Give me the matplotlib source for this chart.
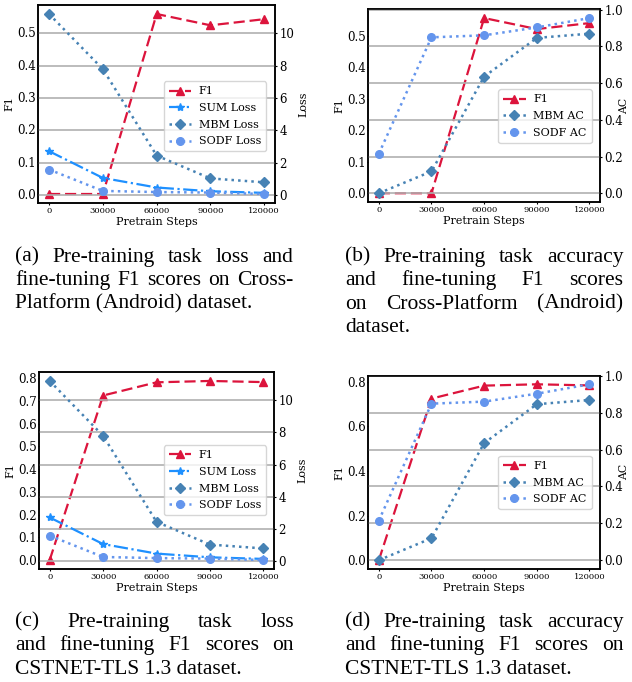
import matplotlib
matplotlib.use("Agg")
import matplotlib.pyplot as plt
from matplotlib.ticker import MultipleLocator

# ---------------- data ----------------
steps = [0, 30000, 60000, 90000, 120000]

f1_android = [0.0, 0.0, 0.557, 0.522, 0.541]
f1_tls = [0.0, 0.724, 0.782, 0.788, 0.783]

sum_loss = [2.72, 1.07, 0.48, 0.25, 0.15]
mbm_loss = [11.18, 7.78, 2.45, 1.04, 0.80]
sodf_loss = [1.59, 0.27, 0.20, 0.17, 0.08]

mbm_ac = [0.0, 0.119, 0.635, 0.846, 0.869]
sodf_ac = [0.215, 0.849, 0.860, 0.903, 0.954]

captions = {
    "a": [("(a) Pre-training task loss and", True),
          ("fine-tuning F1 scores on Cross-", True),
          ("Platform (Android) dataset.", False)],
    "b": [("(b) Pre-training task accuracy", True),
          ("and fine-tuning F1 scores", True),
          ("on Cross-Platform (Android)", True),
          ("dataset.", False)],
    "c": [("(c) Pre-training task loss", True),
          ("and fine-tuning F1 scores on", True),
          ("CSTNET-TLS 1.3 dataset.", False)],
    "d": [("(d) Pre-training task accuracy", True),
          ("and fine-tuning F1 scores on", True),
          ("CSTNET-TLS 1.3 dataset.", False)],
}

# ---------------- style ----------------
W, H = 632, 682
plt.rcParams["font.family"] = ["DejaVu Serif"]
C_F1 = "#DC143C"
C_SUM = "#1E90FF"
C_MBM = "#4682B4"
C_SODF = "#6495ED"

fig = plt.figure(figsize=(W / 100, H / 100), dpi=100)

LEG_KW = dict(loc="center right", borderaxespad=0, fontsize=8, handlelength=2.0,
              handletextpad=0.7, labelspacing=0.6, borderpad=0.45, framealpha=0.8)


def px_axes(left, top, right, bottom):
    return fig.add_axes([left / W, 1 - bottom / H, (right - left) / W, (bottom - top) / H])


def style_axes(ax, ax2, f1_step, right_step):
    for a in (ax, ax2):
        for s in a.spines.values():
            s.set_linewidth(1.1)
            s.set_color("black")
    ax.set_xticks(steps)
    ax.set_xticklabels([str(s) for s in steps])
    ax.tick_params(axis="x", labelsize=6, length=1.5, pad=1.2, width=0.8)
    ax.tick_params(axis="y", labelsize=8.5, length=1.0, pad=0.7, width=0.8)
    ax2.tick_params(axis="y", labelsize=8.5, length=1.5, pad=1.5, width=0.8)
    ax.yaxis.set_major_locator(MultipleLocator(f1_step))
    ax2.yaxis.set_major_locator(MultipleLocator(right_step))
    ax.set_xlabel("Pretrain Steps", fontsize=8, labelpad=1.5)
    ax.set_ylabel("F1", fontsize=8, labelpad=2)
    ax2.grid(axis="y", color="#b0b0b0", linewidth=1.2)
    ax.grid(False)


def loss_panel(box, f1, leg_y, leg_x):
    ax = px_axes(*box)
    ax2 = ax.twinx()
    h1, = ax.plot(steps, f1, color=C_F1, linestyle=(0, (5, 2.2)), linewidth=1.6,
                  marker="^", markersize=5.5, label="F1")
    h2, = ax2.plot(steps, sum_loss, color=C_SUM, linestyle="-.", linewidth=1.6,
                   marker="*", markersize=6, label="SUM Loss")
    h3, = ax2.plot(steps, mbm_loss, color=C_MBM, linestyle=":", linewidth=1.8,
                   marker="D", markersize=5, label="MBM Loss")
    h4, = ax2.plot(steps, sodf_loss, color=C_SODF, linestyle=":", linewidth=1.8,
                   marker="o", markersize=5.5, label="SODF Loss")
    style_axes(ax, ax2, 0.1, 2)
    ax2.set_ylabel("Loss", fontsize=8, labelpad=3)
    ax2.legend(handles=[h1, h2, h3, h4], bbox_to_anchor=(leg_x, leg_y), **LEG_KW)
    return ax, ax2


def ac_panel(box, f1, f1_step, leg_y, leg_x):
    ax = px_axes(*box)
    ax2 = ax.twinx()
    h1, = ax.plot(steps, f1, color=C_F1, linestyle=(0, (5, 2.2)), linewidth=1.6,
                  marker="^", markersize=5.5, label="F1")
    h3, = ax2.plot(steps, mbm_ac, color=C_MBM, linestyle=":", linewidth=1.8,
                   marker="D", markersize=5, label="MBM AC")
    h4, = ax2.plot(steps, sodf_ac, color=C_SODF, linestyle=":", linewidth=1.8,
                   marker="o", markersize=5.5, label="SODF AC")
    style_axes(ax, ax2, f1_step, 0.2)
    ax2.set_ylabel("AC", fontsize=7.8)
    # keep the label inside the figure (left edge of its box at ~619 px)
    left, _, right, _ = box
    ax2.yaxis.set_label_coords((619 - left) / (right - left), 0.5)
    ax2.legend(handles=[h1, h3, h4], bbox_to_anchor=(leg_x, leg_y), **LEG_KW)
    return ax, ax2


loss_panel((38.3, 5, 275, 203), f1_android, 0.437, 0.962)
ac_panel((368.3, 9.3, 600, 202), f1_android, 0.1, 0.446, 0.964)
loss_panel((39, 372, 274, 569), f1_tls, 0.45, 0.966)
ac_panel((368.3, 375.5, 600, 569), f1_tls, 0.2, 0.446, 0.964)

# ---------------- captions (justified) ----------------
renderer = fig.canvas.get_renderer()
CAP_FONT = dict(family="Liberation Serif", fontsize=15.5, va="baseline", ha="left")


def caption(lines, x0, x1, y0, dy):
    for i, (line, just) in enumerate(lines):
        y = 1 - (y0 + i * dy) / H
        if not just:
            fig.text(x0 / W, y, line, **CAP_FONT)
            continue
        words = line.split()
        texts = [fig.text(0, y, w, **CAP_FONT) for w in words]
        widths = [t.get_window_extent(renderer).width for t in texts]
        gap = (x1 - x0 - sum(widths)) / max(len(words) - 1, 1)
        x = x0
        for t, wd in zip(texts, widths):
            t.set_x(x / W)
            x += wd + gap


caption(captions["a"], 15, 293.5, 261.7, 23.4)
caption(captions["b"], 345, 623.5, 261.7, 23.4)
caption(captions["c"], 15, 294, 626.7, 23.4)
caption(captions["d"], 345, 623.5, 626.7, 23.4)

fig.savefig("out.png", dpi=100)
